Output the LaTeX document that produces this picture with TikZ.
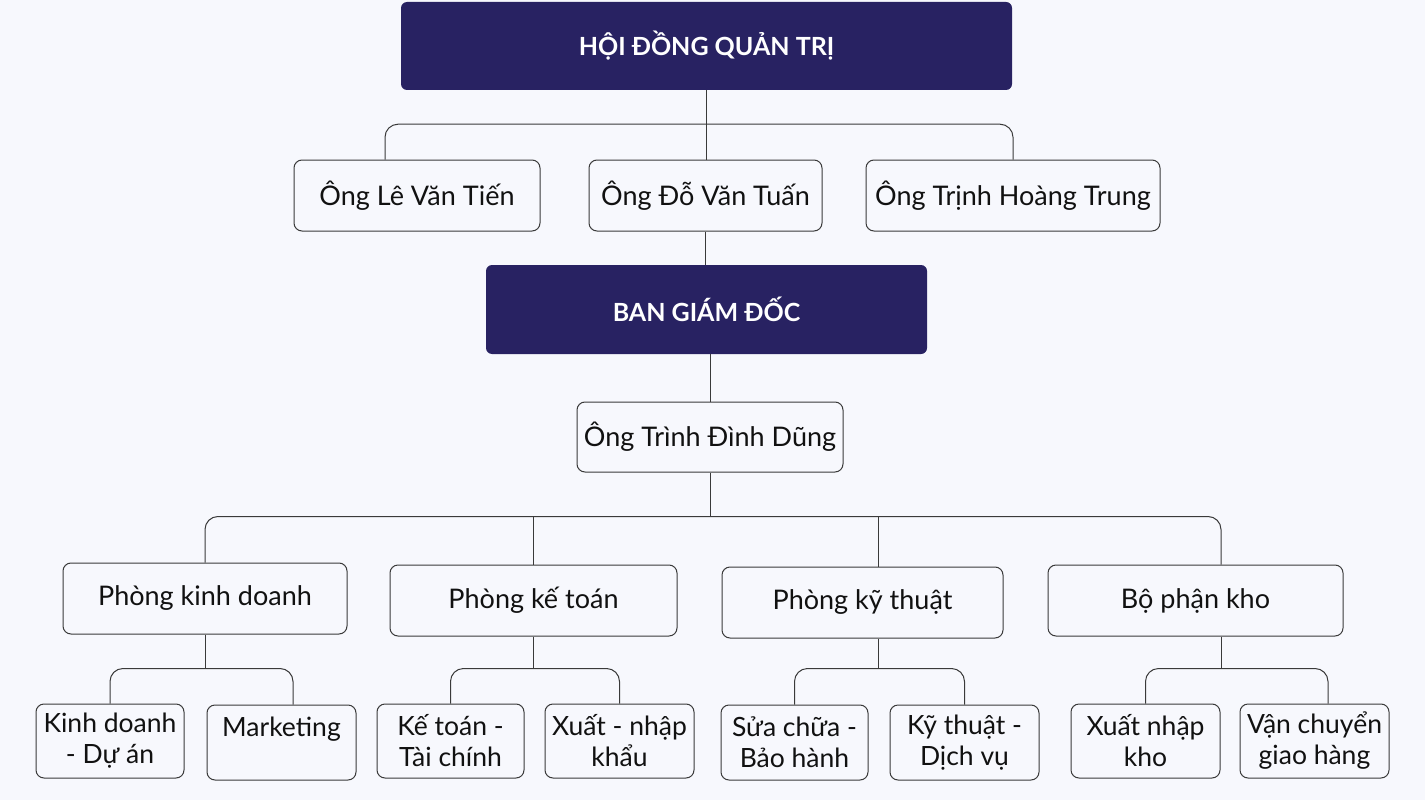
\documentclass[tikz,border=0pt]{standalone}
\usepackage{fontspec}
\setmainfont{Lato}
\usetikzlibrary{calc}
\definecolor{bg}{HTML}{F7F8FD}
\definecolor{navy}{HTML}{282262}
\definecolor{ln}{HTML}{3A3A3A}
\definecolor{txt}{HTML}{111111}
\begin{document}
\begin{tikzpicture}[x=1pt,y=-1pt,
  conn/.style={draw=ln, line width=1pt},
  br/.style={conn, rounded corners=13pt},
  box/.style={draw=ln, line width=1pt, rounded corners=8pt, fill=bg, inner sep=0pt,
    text=txt, font=\fontsize{27}{31}\selectfont, align=center},
  sbox/.style={box, font=\fontsize{26.5}{31}\selectfont},
  hbox/.style={fill=navy, rounded corners=6pt, inner sep=0pt, text=white,
    font=\bfseries\fontsize{25}{28}\selectfont, align=center}]
\useasboundingbox (0,0) rectangle (1425,800);
\fill[bg] (0,0) rectangle (1425,800);

% nodes
\node[hbox, minimum width=611pt, minimum height=88pt] (hdqt) at (706.5,46) {HỘI ĐỒNG QUẢN TRỊ};
\node[box, minimum width=246pt, minimum height=71pt] (b1) at (417,195.5) {Ông Lê Văn Tiến};
\node[box, minimum width=233pt, minimum height=71pt] (b2) at (705.5,195.5) {Ông Đỗ Văn Tuấn};
\node[box, minimum width=294pt, minimum height=71pt] (b3) at (1013,195.5) {Ông Trịnh Hoàng Trung};
\node[hbox, minimum width=441pt, minimum height=89pt] (bgd) at (706.5,309.5) {BAN GIÁM ĐỐC};
\node[box, minimum width=266pt, minimum height=70pt] (dung) at (710,437) {Ông Trình Đình Dũng};

\node[box, minimum width=284pt, minimum height=71pt] (p1) at (205,598.5) {Phòng kinh doanh};
\node[box, minimum width=287pt, minimum height=71pt] (p2) at (533.5,600.5) {Phòng kế toán};
\node[box, minimum width=281pt, minimum height=71pt] (p3) at (862.5,602.5) {Phòng kỹ thuật};
\node[box, minimum width=295pt, minimum height=71pt] (p4) at (1195.5,600.5) {Bộ phận kho};

\node[sbox, minimum width=148pt, minimum height=74pt] (s1) at (110,741) {Kinh doanh\\- Dự án};
\node[sbox, minimum width=149pt, minimum height=75pt] (s2) at (281.5,742.5) {Marketing\\\mbox{}};
\node[sbox, minimum width=147pt, minimum height=74pt] (s3) at (450.5,741) {Kế toán -\\Tài chính};
\node[sbox, minimum width=149pt, minimum height=74pt] (s4) at (619.5,741) {Xuất - nhập\\khẩu};
\node[sbox, minimum width=147pt, minimum height=75pt] (s5) at (794.5,742.5) {Sửa chữa -\\Bảo hành};
\node[sbox, minimum width=149pt, minimum height=75pt] (s6) at (964.5,742.5) {Kỹ thuật -\\Dịch vụ};
\node[sbox, minimum width=149pt, minimum height=74pt] (s7) at (1145.5,741) {Xuất nhập\\kho};
\node[sbox, minimum width=149pt, minimum height=74pt] (s8) at (1314.5,741) {Vận chuyển\\giao hàng};

% helper coordinates
\coordinate (b1t) at ([xshift=-32pt]b1.north);
\coordinate (p3t) at ([xshift=15.5pt]p3.north);
\coordinate (p4t) at ([xshift=25.5pt]p4.north);
\coordinate (p3b) at ([xshift=16pt]p3.south);
\coordinate (p4b) at ([xshift=25.5pt]p4.south);
\coordinate (s2t) at ([xshift=11.5pt]s2.north);
\coordinate (s8t) at ([xshift=13.5pt]s8.north);

% level 1
\coordinate (j0) at ($(hdqt.south)+(0,34)$);
\draw[conn] (hdqt.south) -- (j0);
\draw[br] (b1t) |- (j0) -| (b3.north);
\draw[conn] (j0) -- (j0 |- b2.north);
\draw[conn] (b2.south) -- (b2.south |- bgd.north);
\draw[conn] (dung.north |- bgd.south) -- (dung.north);

% level 2
\coordinate (j1) at ($(dung.south)+(0,44)$);
\draw[conn] (dung.south) -- (j1);
\draw[br] (p1.north) |- (j1) -| (p4t);
\draw[conn] (p2.north |- j1) -- (p2.north);
\draw[conn] (p3t |- j1) -- (p3t);

% level 3
\coordinate (k1) at ($(p1.south)+(0,34)$);
\draw[conn] (p1.south) -- (k1);
\draw[br] (s1.north) |- (k1) -| (s2t);
\coordinate (k2) at ($(p2.south)+(0,32)$);
\draw[conn] (p2.south) -- (k2);
\draw[br] (s3.north) |- (k2) -| (s4.north);
\coordinate (k3) at ($(p3b)+(0,30)$);
\draw[conn] (p3b) -- (k3);
\draw[br] (s5.north) |- (k3) -| (s6.north);
\coordinate (k4) at ($(p4b)+(0,32)$);
\draw[conn] (p4b) -- (k4);
\draw[br] (s7.north) |- (k4) -| (s8t);
\end{tikzpicture}
\end{document}
